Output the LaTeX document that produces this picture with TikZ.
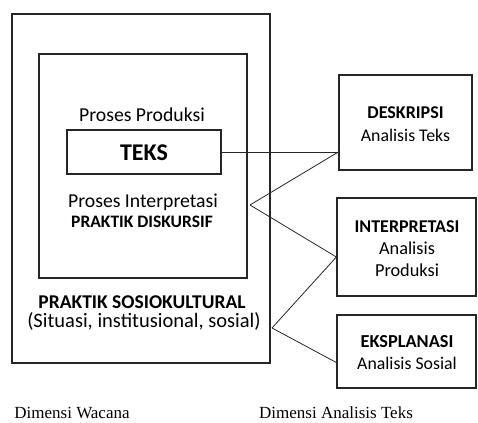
\documentclass[tikz,border=0pt]{standalone}
\usepackage{fontspec}
\setmainfont{Carlito}
\newfontfamily\serif{Liberation Serif}
\begin{document}
\begin{tikzpicture}[x=1pt,y=-1pt,
  box/.style={draw=black!85,line width=1.3pt,minimum width=#1,inner sep=0pt},
  lbl/.style={inner sep=0pt,align=center,font=\fontsize{19.7}{24}\selectfont},
  rlbl/.style={inner sep=0pt,align=center,font=\fontsize{17.8}{21}\selectfont},
  blbl/.style={inner sep=0pt,align=center,font=\fontsize{18}{21}\selectfont\bfseries},
  conn/.style={draw=black!85,line width=0.8pt},
  captxt/.style={inner sep=0pt,font=\serif\fontsize{17}{19}\selectfont}]
\useasboundingbox (0,0) rectangle (478,422);
% boxes
\node[box=258pt,minimum height=349pt] (outer) at (141,188.5) {};
\node[box=208pt,minimum height=224pt] (inner) at (143,166) {};
\node[box=154pt,minimum height=44pt] (teks) at (144,152) {};
\node[box=133pt,minimum height=95pt] (desk) at (405.5,122.5) {};
\node[box=139pt,minimum height=98pt] (interp) at (406.5,247) {};
\node[box=139pt,minimum height=73pt] (eksp) at (406.5,351.5) {};
% texts
\node[lbl] (pp) at (142,115) {Proses Produksi};
\node[inner sep=0pt,font=\fontsize{24}{26}\selectfont\bfseries] (tk) at (144,153) {TEKS};
\node[lbl] (pi) at (143,202) {Proses Interpretasi};
\node[blbl,font=\fontsize{17.5}{20}\selectfont\bfseries] (pd) at (142,222) {PRAKTIK DISKURSIF};
\node[blbl,font=\fontsize{19.5}{22}\selectfont\bfseries] (ps) at (142,302) {PRAKTIK SOSIOKULTURAL};
\node[lbl,font=\fontsize{20.5}{24}\selectfont] (si) at (144,321) {(Situasi, institusional, sosial)};
\node[blbl] (d1) at (405.5,113) {DESKRIPSI};
\node[rlbl] (d2) at (405.5,135) {Analisis Teks};
\node[blbl] (i1) at (407,227) {INTERPRETASI};
\node[rlbl,font=\fontsize{18.3}{22}\selectfont] (i2) at (407,248) {Analisis};
\node[rlbl,font=\fontsize{18.3}{22}\selectfont] (i3) at (407,270) {Produksi};
\node[blbl,font=\fontsize{18.3}{22}\selectfont\bfseries] (e1) at (407,342) {EKSPLANASI};
\node[rlbl] (e2) at (407,363) {Analisis Sosial};
\node[captxt] (c1) at (72,413) {Dimensi Wacana};
\node[captxt] (c2) at (336,413) {Dimensi Analisis Teks};
% connectors
\coordinate (j1) at (250,205);
\coordinate (j2) at (272,328);
\coordinate (dw) at (desk.west |- teks.east);
\coordinate (iw) at ([yshift=-10pt]interp.west);
\coordinate (ew) at ([yshift=-11pt]eksp.west);
\draw[conn] (teks.east) -- (dw);
\draw[conn] (j1) -- (dw);
\draw[conn] (j1) -- (iw);
\draw[conn] (j2) -- (iw);
\draw[conn] (j2) -- (ew);
\end{tikzpicture}
\end{document}
